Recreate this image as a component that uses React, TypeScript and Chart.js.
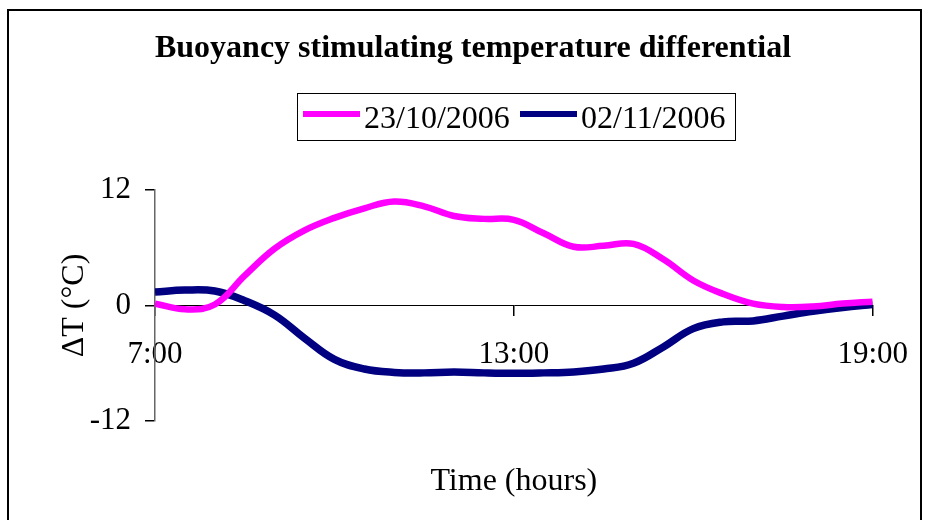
import React, { useEffect, useRef } from "react";
import { Chart, registerables } from "chart.js";

Chart.register(...registerables);

// ---- data ----
const times = [7, 7.5, 8, 8.5, 9, 9.5, 10, 10.5, 11, 11.5, 12, 12.5, 13, 13.5, 14, 14.5, 15, 15.5, 16, 16.5, 17, 17.5, 18, 18.5, 19];
const series1Values = [0.2, -0.4, 0.1, 3.1, 5.9, 7.8, 9.1, 10.1, 10.8, 10.3, 9.3, 9.0, 8.9, 7.5, 6.1, 6.2, 6.4, 4.8, 2.6, 1.2, 0.2, -0.15, -0.1, 0.2, 0.4];
const series2Values = [1.4, 1.6, 1.5, 0.5, -1.0, -3.4, -5.6, -6.6, -6.95, -7.0, -6.9, -7.0, -7.05, -7.0, -6.9, -6.6, -6.0, -4.3, -2.4, -1.7, -1.6, -1.1, -0.6, -0.2, 0.1];
const seriesNames = ["23/10/2006", "02/11/2006"];
const seriesColors = ["#FF00FF", "#000080"];
const xTickValues = [7, 13, 19];
const xTickLabels = ["7:00", "13:00", "19:00"];
const yTickValues = [-12, 0, 12];
const chartTitle = "Buoyancy stimulating temperature differential";
const xAxisTitle = "Time (hours)";
const yAxisTitle = "ΔT (°C)";

const FONT = "'Liberation Serif', 'Times New Roman', Times, serif";

const overlayPlugin = {
  id: "overlay",
  afterDraw(chart: any) {
    const ctx = chart.ctx as CanvasRenderingContext2D;
    ctx.save();
    // frame
    ctx.strokeStyle = "#000";
    ctx.lineWidth = 2;
    ctx.beginPath();
    ctx.moveTo(8, 530);
    ctx.lineTo(8, 10);
    ctx.lineTo(921, 10);
    ctx.lineTo(921, 530);
    ctx.stroke();

    // title
    ctx.fillStyle = "#000";
    ctx.textAlign = "center";
    ctx.textBaseline = "alphabetic";
    ctx.font = `bold 32px ${FONT}`;
    ctx.fillText(chartTitle, 473, 57);

    // legend
    ctx.lineWidth = 1;
    ctx.strokeStyle = "#000";
    ctx.strokeRect(297.5, 93.5, 438, 47);
    ctx.font = `32px ${FONT}`;
    ctx.textAlign = "left";
    const ds = chart.data.datasets;
    const legendX = [303, 520];
    for (let i = 0; i < ds.length; i++) {
      ctx.fillStyle = ds[i].borderColor;
      ctx.fillRect(legendX[i], 111, 57, 6);
      ctx.fillStyle = "#000";
      ctx.fillText(ds[i].label, legendX[i] + 61, 128);
    }

    // x axis title
    ctx.textAlign = "center";
    ctx.fillText(xAxisTitle, (chart.chartArea.left + chart.chartArea.right) / 2, 490);
    ctx.restore();
  },
};

export default function App() {
  const canvasRef = useRef<HTMLCanvasElement | null>(null);

  useEffect(() => {
    const canvas = canvasRef.current;
    if (!canvas) return;
    const mk = (vals: number[]) => times.map((t, i) => ({ x: t, y: vals[i] }));
    const chart = new Chart(canvas, {
      type: "line",
      data: {
        datasets: [
          {
            label: seriesNames[0],
            data: mk(series1Values),
            borderColor: seriesColors[0],
            backgroundColor: seriesColors[0],
            borderWidth: 6.5,
            pointRadius: 0,
            tension: 0.4,
            fill: false,
            borderCapStyle: "butt",
          },
          {
            label: seriesNames[1],
            data: mk(series2Values),
            borderColor: seriesColors[1],
            backgroundColor: seriesColors[1],
            borderWidth: 7.5,
            pointRadius: 0,
            tension: 0.4,
            fill: false,
            borderCapStyle: "butt",
          },
        ],
      },
      options: {
        responsive: false,
        animation: false,
        devicePixelRatio: 1,
        layout: { padding: { top: 190, right: 52, bottom: 99, left: 0 } },
        plugins: {
          legend: { display: false },
          title: { display: false },
          tooltip: { enabled: false },
        },
        scales: {
          x: {
            type: "linear",
            min: 7,
            max: 19,
            position: { y: 0 } as any,
            afterBuildTicks: (scale: any) => {
              scale.ticks = xTickValues.map((v) => ({ value: v }));
            },
            ticks: {
              autoSkip: false,
              maxRotation: 0,
              color: "#000",
              padding: 21,
              font: { family: FONT, size: 31 },
              callback: (v: any) => {
                const i = xTickValues.indexOf(Number(v));
                return i >= 0 ? xTickLabels[i] : "";
              },
            },
            grid: {
              drawOnChartArea: false,
              drawTicks: true,
              tickLength: 10,
              color: "#000",
              lineWidth: 1.5,
            },
            border: { display: true, color: "#000", width: 1 },
            title: { display: false },
          },
          y: {
            type: "linear",
            min: -12,
            max: 12,
            afterBuildTicks: (scale: any) => {
              scale.ticks = yTickValues.map((v) => ({ value: v }));
            },
            afterFit: (scale: any) => {
              scale.width = 155;
            },
            ticks: {
              color: "#000",
              padding: 14,
              font: { family: FONT, size: 31 },
              callback: (v: any) => String(v),
            },
            grid: {
              drawOnChartArea: false,
              drawTicks: true,
              tickLength: 10,
              color: "#000",
              lineWidth: 1.5,
            },
            border: { display: true, color: "#666", width: 1.5 },
            title: {
              display: true,
              text: yAxisTitle,
              color: "#000",
              font: { family: FONT, size: 32 },
              padding: { top: 55, bottom: 0 },
            },
          },
        },
      },
      plugins: [overlayPlugin],
    });
    return () => chart.destroy();
  }, []);

  return (
    <div style={{ position: "absolute", left: 0, top: 0, width: 929, height: 520, background: "#fff", overflow: "hidden" }}>
      <canvas ref={canvasRef} width={929} height={520} />
    </div>
  );
}
